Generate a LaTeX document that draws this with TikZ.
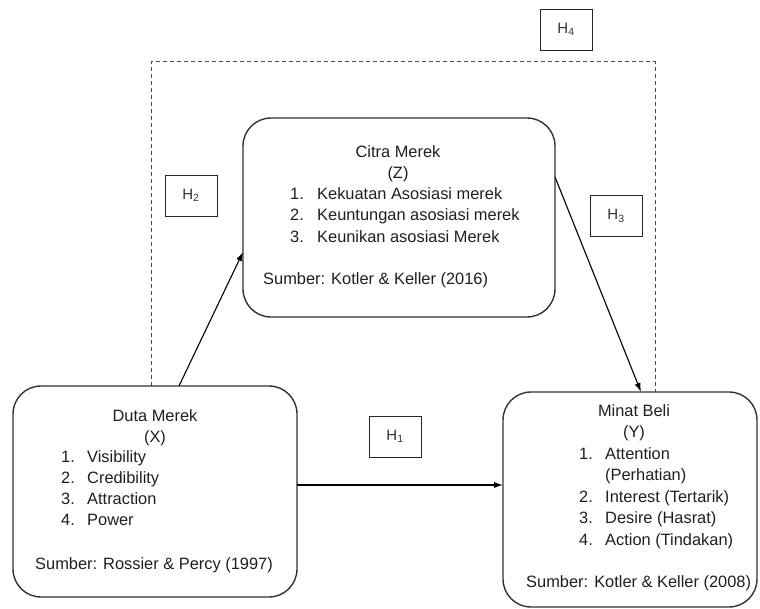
\documentclass[tikz,border=0pt]{standalone}
\usepackage{fontspec}
\setmainfont{Liberation Sans}
\usetikzlibrary{arrows.meta}
\begin{document}
\begin{tikzpicture}[x=1pt,y=-1pt,
  bigbox/.style={draw=black!80,line width=1.4pt,rounded corners=28pt,inner sep=0pt},
  hbox/.style={draw=black!85,line width=0.9pt,minimum width=52pt,minimum height=41pt,inner sep=0pt,font=\fontsize{15}{17}\selectfont,text=black!80},
  txt/.style={inner sep=0pt,font=\fontsize{16.4}{19}\selectfont,text=black!88},
  ctxt/.style={txt,anchor=mid},
  ltxt/.style={txt,anchor=mid west},
  arr/.style={line width=1.1pt,black,-{Latex[length=9pt,width=6pt]}},
  dashline/.style={line width=1pt,black!70,dash pattern=on 4pt off 3pt}
]
\useasboundingbox (0,0) rectangle (760,609);

% big boxes
\node[bigbox,minimum width=284pt,minimum height=211pt] (duta) at (155,491.5) {};
\node[bigbox,minimum width=312pt,minimum height=199pt] (citra) at (399,217.5) {};
\node[bigbox,minimum width=254pt,minimum height=215pt] (minat) at (630,499.5) {};

% dashed H4 path
\coordinate (d1) at (151,386);
\coordinate (d2) at (151,62);
\coordinate (d3) at (655,62);
\coordinate (d4) at (655,392);
\draw[dashline] (d1) -- (d2) -- (d3) -- (d4);

% arrows
\coordinate (a1s) at (179,386);
\coordinate (a1e) at (243,252);
\draw[arr] (a1s) -- (a1e);
\coordinate (a2s) at (555,177);
\coordinate (a2e) at (641,392);
\draw[arr] (a2s) -- (a2e);
\coordinate (a3s) at (297,485);
\coordinate (a3e) at (503,485);
\draw[arr] (a3s) -- (a3e);

% H boxes
\node[hbox] (h4) at (566,29.5) {H\textsubscript{4}};
\node[hbox] (h2) at (191,195.5) {H\textsubscript{2}};
\node[hbox] (h3) at (616,216) {H\textsubscript{3}};
\node[hbox] (h1) at (395,436.5) {H\textsubscript{1}};

% Citra texts
\node[ctxt] (ct1) at (398,155) {Citra Merek};
\node[ctxt] (ct2) at (398,176) {(Z)};
\node[ltxt] (cn1) at (290,197) {1.};
\node[ltxt] (ci1) at (317,197) {Kekuatan Asosiasi merek};
\node[ltxt] (cn2) at (290,218) {2.};
\node[ltxt] (ci2) at (317,218) {Keuntungan asosiasi merek};
\node[ltxt] (cn3) at (290,240) {3.};
\node[ltxt] (ci3) at (317,240) {Keunikan asosiasi Merek};
\node[ltxt] (cs) at (263,282) {Sumber: Kotler \& Keller (2016)};

% Duta texts
\node[ctxt] (dt1) at (155,419) {Duta Merek};
\node[ctxt] (dt2) at (155,440) {(X)};
\node[ltxt] (dn1) at (61,460) {1.};
\node[ltxt] (di1) at (87,460) {Visibility};
\node[ltxt] (dn2) at (61,481) {2.};
\node[ltxt] (di2) at (87,481) {Credibility};
\node[ltxt] (dn3) at (61,502) {3.};
\node[ltxt] (di3) at (87,502) {Attraction};
\node[ltxt] (dn4) at (61,523) {4.};
\node[ltxt] (di4) at (87,523) {Power};
\node[ltxt] (ds) at (35,567) {Sumber: Rossier \& Percy (1997)};

% Minat texts
\node[ctxt] (mt1) at (634,414) {Minat Beli};
\node[ctxt] (mt2) at (634,435) {(Y)};
\node[ltxt] (mn1) at (579,457) {1.};
\node[ltxt] (mi1) at (605,457) {Attention};
\node[ltxt] (mi1b) at (605,478) {(Perhatian)};
\node[ltxt] (mn2) at (579,500) {2.};
\node[ltxt] (mi2) at (605,500) {Interest (Tertarik)};
\node[ltxt] (mn3) at (579,521) {3.};
\node[ltxt] (mi3) at (605,521) {Desire (Hasrat)};
\node[ltxt] (mn4) at (579,543) {4.};
\node[ltxt] (mi4) at (605,543) {Action (Tindakan)};
\node[ltxt] (ms) at (526,585) {Sumber: Kotler \& Keller (2008)};
\end{tikzpicture}
\end{document}
